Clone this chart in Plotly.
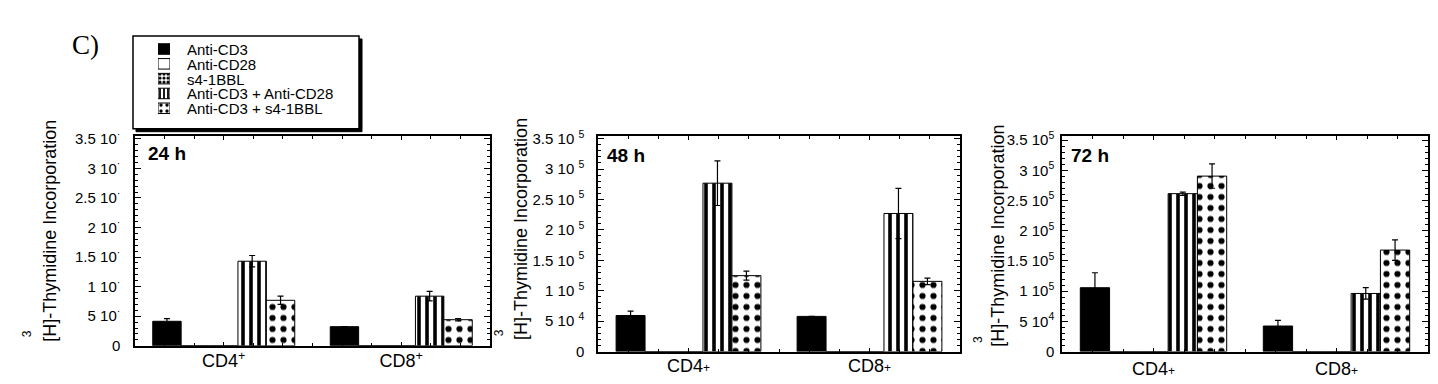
import plotly.graph_objects as go

W, H = 1438, 384

# ---------------- data ----------------
groups = ["CD4+", "CD8+"]
treatments = ["Anti-CD3", "Anti-CD28", "s4-1BBL", "Anti-CD3 + Anti-CD28", "Anti-CD3 + s4-1BBL"]
panel_labels = ["24 h", "48 h", "72 h"]

# 24 h  (values for CD4+, CD8+)
h24_cd3 = [4140, 3230]
h24_cd28 = [0, 0]
h24_bbl = [0, 0]
h24_cd3_cd28 = [14300, 8390]
h24_cd3_bbl = [7690, 4410]
h24_err_cd3 = [460, 0]
h24_err_cd3_cd28 = [970, 800]
h24_err_cd3_bbl = [700, 200]

# 48 h
h48_cd3 = [59200, 57700]
h48_cd28 = [0, 0]
h48_bbl = [0, 0]
h48_cd3_cd28 = [276700, 226900]
h48_cd3_bbl = [124700, 115300]
h48_err_cd3 = [7300, 0]
h48_err_cd3_cd28 = [36700, 41400]
h48_err_cd3_bbl = [7300, 5200]

# 72 h
h72_cd3 = [105600, 42200]
h72_cd28 = [0, 0]
h72_bbl = [0, 0]
h72_cd3_cd28 = [261300, 96100]
h72_cd3_bbl = [290400, 167900]
h72_err_cd3 = [24800, 9500]
h72_err_cd3_cd28 = [2700, 9500]
h72_err_cd3_bbl = [20100, 16900]

# tick labels
yticks_24 = [0, 5000, 10000, 15000, 20000, 25000, 30000, 35000]
yticktext_24 = ["0", "5 10<sup>·</sup>", "1 10<sup>·</sup>", "1.5 10<sup>·</sup>", "2 10<sup>·</sup>",
                "2.5 10<sup>·</sup>", "3 10<sup>·</sup>", "3.5 10<sup>·</sup>"]
yticks_48_72 = [0, 50000, 100000, 150000, 200000, 250000, 300000, 350000]
yticktext_48 = ["0", "5 10 <sup>4</sup>", "1 10 <sup>5</sup>", "1.5 10 <sup>5</sup>", "2 10 <sup>5</sup>",
                "2.5 10 <sup>5</sup>", "3 10 <sup>5</sup>", "3.5 10 <sup>5</sup>"]
yticktext_72 = ["0", "5 10<sup>4</sup>", "1 10<sup>5</sup>", "1.5 10<sup>5</sup>", "2 10<sup>5</sup>",
                "2.5 10<sup>5</sup>", "3 10<sup>5</sup>", "3.5 10<sup>5</sup>"]
xticktext_24 = ["CD4<sup>+</sup>", "CD8<sup>+</sup>"]
xticktext_48_72 = ["CD4<span style='font-size:12px'>+</span>", "CD8<span style='font-size:12px'>+</span>"]
ytitle = "[H]-Thymidine Incorporation"

# ---------------- helpers ----------------
def px(x):
    return x / W

def py(y):
    return 1 - y / H

FONT = "Liberation Sans, Arial, sans-serif"

def style(t, legend=False):
    line = dict(color="black", width=1)
    if t == "Anti-CD3":
        return dict(color="black", line=line)
    if t == "Anti-CD28":
        return dict(color="white", line=line)
    if t == "s4-1BBL":
        return dict(color="white", line=line,
                    pattern=dict(shape=".", fgcolor="black", bgcolor="white",
                                 fgopacity=1, size=4, solidity=0.5))
    if t == "Anti-CD3 + Anti-CD28":
        return dict(color="white", line=line,
                    pattern=dict(shape="|", fgcolor="black", bgcolor="white", fgopacity=1,
                                 size=4 if legend else 8, solidity=0.45))
    return dict(color="white", line=line,
                pattern=dict(shape=".", fgcolor="black", bgcolor="white", fgopacity=1,
                             size=6 if legend else 11, solidity=0.25))

panels = [
    dict(vals=[h24_cd3, h24_cd28, h24_bbl, h24_cd3_cd28, h24_cd3_bbl],
         errs=[h24_err_cd3, None, None, h24_err_cd3_cd28, h24_err_cd3_bbl],
         dom_x=(127, 482), dom_y=(125, 344), yr=35400,
         yt=yticks_24, ytt=yticktext_24, xtt=xticktext_24, minor=1000,
         ystand=10, xstand=-2, title_x=42, title_b=342, sup=(19, 332),
         lab=(138, 143)),
    dict(vals=[h48_cd3, h48_cd28, h48_bbl, h48_cd3_cd28, h48_cd3_bbl],
         errs=[h48_err_cd3, None, None, h48_err_cd3_cd28, h48_err_cd3_bbl],
         dom_x=(590, 952), dom_y=(125, 350), yr=353500,
         yt=yticks_48_72, ytt=yticktext_48, xtt=xticktext_48_72, minor=10000,
         ystand=9, xstand=-3, title_x=513, title_b=340, sup=(491, 331),
         lab=(597, 145)),
    dict(vals=[h72_cd3, h72_cd28, h72_bbl, h72_cd3_cd28, h72_cd3_bbl],
         errs=[h72_err_cd3, None, None, h72_err_cd3_cd28, h72_err_cd3_bbl],
         dom_x=(1054, 1420), dom_y=(125, 350), yr=356000,
         yt=yticks_48_72, ytt=yticktext_72, xtt=xticktext_48_72, minor=10000,
         ystand=3, xstand=0, title_x=990, title_b=347, sup=(970, 338),
         lab=(1061, 145)),
]

fig = go.Figure()
annotations = []
layout_axes = {}

for i, p in enumerate(panels):
    k = "" if i == 0 else str(i + 1)
    for t, v, e in zip(treatments, p["vals"], p["errs"]):
        fig.add_trace(go.Bar(
            x=[0, 1], y=v, name=t, offsetgroup=t, showlegend=False,
            marker=style(t),
            error_y=(dict(type="data", array=e, visible=True, color="black",
                          thickness=1.2, width=3) if e is not None else None),
            xaxis="x" + k, yaxis="y" + k,
        ))
    layout_axes["xaxis" + k] = dict(
        domain=[px(p["dom_x"][0]), px(p["dom_x"][1])], anchor="y" + k,
        range=[-0.5, 1.5], tickmode="array", tickvals=[0, 1], ticktext=p["xtt"],
        ticks="inside", ticklen=4, tickcolor="black", showline=True, linecolor="black",
        linewidth=1.5, mirror="ticks", showgrid=False, zeroline=False,
        ticklabelstandoff=p["xstand"],
        tickfont=dict(family=FONT, size=18, color="black"),
        minor=dict(ticks="inside", tick0=-0.5, dtick=1 / 6, ticklen=3, tickcolor="black"),
        fixedrange=True,
    )
    layout_axes["yaxis" + k] = dict(
        domain=[py(p["dom_y"][1]), py(p["dom_y"][0])], anchor="x" + k,
        range=[0, p["yr"]], tickmode="array", tickvals=p["yt"], ticktext=p["ytt"],
        ticks="inside", ticklen=6, tickcolor="black", showline=True, linecolor="black",
        linewidth=1.5, mirror="ticks", showgrid=False, zeroline=False,
        ticklabelstandoff=p["ystand"],
        tickfont=dict(family=FONT, size=15, color="black"),
        minor=dict(ticks="inside", dtick=p["minor"], ticklen=3, tickcolor="black"),
        fixedrange=True,
    )
    annotations.append(dict(
        text=ytitle, textangle=-90, xref="paper", yref="paper",
        x=px(p["title_x"]), y=py(p["title_b"]), xanchor="center", yanchor="bottom",
        showarrow=False, font=dict(family=FONT, size=18, color="black")))
    annotations.append(dict(
        text="3", textangle=-90, xref="paper", yref="paper",
        x=px(p["sup"][0]), y=py(p["sup"][1]), xanchor="center", yanchor="middle",
        showarrow=False, font=dict(family=FONT, size=12, color="black")))
    annotations.append(dict(
        text="<b>" + panel_labels[i] + "</b>", xref="paper", yref="paper",
        x=px(p["lab"][0]), y=py(p["lab"][1]), xanchor="left", yanchor="middle",
        showarrow=False, font=dict(family=FONT, size=19, color="black")))

# ---------------- manual legend ----------------
leg_rows = [33.5, 49, 64.5, 80, 95.5]
for t, ry in zip(treatments, leg_rows):
    fig.add_trace(go.Bar(
        x=[0], y=[11], base=[ry - 5.5], width=[1], offset=0, offsetgroup="legend",
        marker=style(t, legend=True), showlegend=False, hoverinfo="skip",
        xaxis="x4", yaxis="y4"))
    annotations.append(dict(
        text=t, xref="paper", yref="paper", x=px(178), y=py(ry),
        xanchor="left", yanchor="middle", showarrow=False, height=14, borderpad=0,
        font=dict(family=FONT, size=15, color="black")))

layout_axes["xaxis4"] = dict(domain=[px(150), px(162)], anchor="y4", range=[0, 1],
                             visible=False, fixedrange=True)
layout_axes["yaxis4"] = dict(domain=[py(117), py(20)], anchor="x4", range=[117, 20],
                             visible=False, fixedrange=True)

annotations.append(dict(
    text="C)", xref="paper", yref="paper", x=px(62), y=py(29),
    xanchor="left", yanchor="middle", showarrow=False,
    font=dict(family="Liberation Serif, Times New Roman, serif", size=27, color="black")))

shapes = [
    dict(type="rect", xref="paper", yref="paper", layer="below",
         x0=px(128), x1=px(354), y0=py(120), y1=py(23),
         fillcolor="black", line=dict(color="black", width=1)),
    dict(type="rect", xref="paper", yref="paper", layer="below",
         x0=px(125), x1=px(351), y0=py(117), y1=py(20),
         fillcolor="white", line=dict(color="black", width=1.5)),
]

fig.update_layout(
    width=W, height=H, margin=dict(l=0, r=0, t=0, b=0),
    paper_bgcolor="white", plot_bgcolor="rgba(0,0,0,0)",
    barmode="group", bargap=0.2, bargroupgap=0,
    showlegend=False, annotations=annotations, shapes=shapes,
    font=dict(family=FONT, color="black"),
    **layout_axes,
)

fig.write_html("out.html")
